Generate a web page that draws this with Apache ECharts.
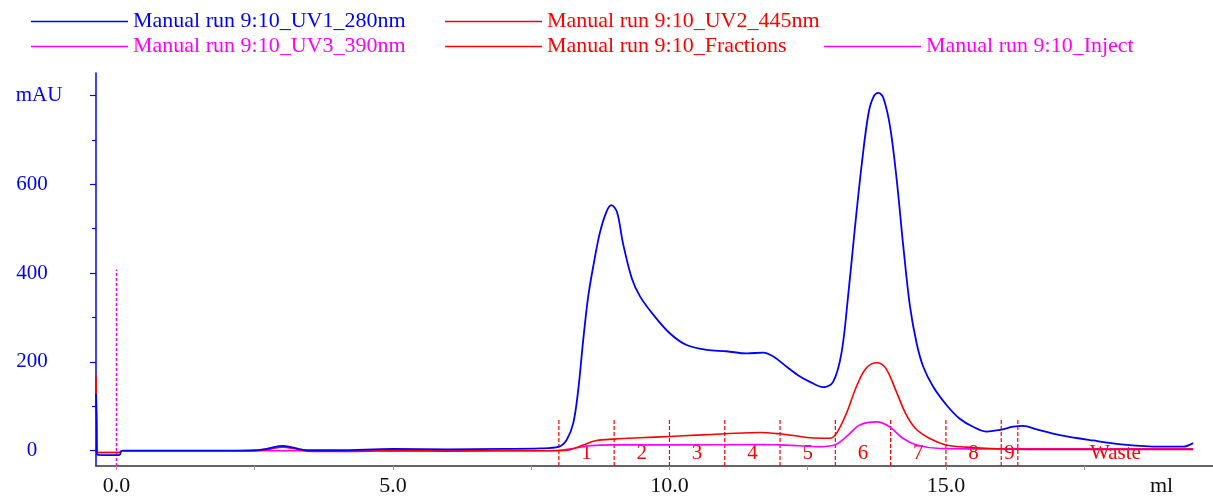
<!DOCTYPE html>
<html>
<head>
<meta charset="utf-8">
<title>Manual run 9:10</title>
<script src="https://cdn.jsdelivr.net/npm/echarts@6/dist/echarts.min.js"></script>
<style>
  html, body { margin: 0; padding: 0; background: #ffffff; }
  #chart { width: 1213px; height: 497px; }
</style>
</head>
<body>
<div id="chart"></div>
<script>
// Series names
const nameUV1 = 'Manual run 9:10_UV1_280nm';
const nameUV2 = 'Manual run 9:10_UV2_445nm';
const nameUV3 = 'Manual run 9:10_UV3_390nm';
const nameFrac = 'Manual run 9:10_Fractions';
const nameInject = 'Manual run 9:10_Inject';

// UV 280 nm trace: [ml, mAU]
const uv1 = [
  [-0.37, 128], [-0.36, 60], [-0.35, -9], [-0.2, -10], [0.05, -10], [0.1, 0],
  [1.0, 0], [2.0, 0], [2.5, 1], [2.75, 5], [3.0, 11], [3.2, 7], [3.45, 1],
  [4.0, 1], [5.0, 4], [6.0, 3], [7.0, 4], [7.66, 5], [8.0, 9], [8.14, 24],
  [8.26, 62], [8.35, 137], [8.44, 249], [8.53, 347], [8.62, 414], [8.74, 490],
  [8.86, 538], [8.95, 553], [9.05, 538], [9.16, 467], [9.32, 388], [9.47, 347],
  [9.71, 306], [10.01, 264], [10.31, 238], [10.67, 227], [11.03, 224], [11.4, 219],
  [11.7, 221], [11.88, 212], [12.12, 189], [12.36, 167], [12.54, 155], [12.78, 143],
  [12.96, 155], [13.11, 219], [13.23, 347], [13.35, 497], [13.48, 648], [13.6, 760],
  [13.69, 797], [13.78, 806], [13.87, 794], [13.99, 730], [14.11, 610], [14.23, 459],
  [14.35, 325], [14.47, 242], [14.59, 189], [14.77, 144], [15.01, 103], [15.25, 72],
  [15.49, 54], [15.74, 43], [15.98, 47], [16.22, 54], [16.4, 56], [16.64, 48],
  [17.06, 35], [17.66, 23], [18.27, 13], [18.87, 9], [19.29, 9], [19.47, 17]
];

// UV 445 nm trace: [ml, mAU]
const uv2 = [
  [-0.37, 170], [-0.36, 70], [-0.35, -4], [0.05, -4], [0.1, 0], [2.0, 0],
  [2.5, 0], [2.75, 3], [3.0, 8], [3.2, 5], [3.45, -1], [4.0, -2], [5.0, 0],
  [6.0, -1], [7.0, 0], [7.66, 0], [8.0, 0], [8.2, 2], [8.44, 13], [8.68, 23],
  [9.0, 26], [9.47, 29], [10.0, 32], [10.5, 35], [11.0, 38], [11.64, 41],
  [11.99, 38], [12.36, 32], [12.54, 29], [12.9, 28], [13.02, 39], [13.2, 84],
  [13.38, 144], [13.56, 186], [13.75, 198], [13.91, 186], [14.09, 137], [14.27, 84],
  [14.45, 50], [14.7, 28], [15.0, 13], [15.36, 8], [15.8, 5], [16.5, 3],
  [17.5, 3], [18.5, 3], [19.47, 3]
];

// UV 390 nm trace: [ml, mAU]
const uv3 = [
  [-0.37, -4], [0.05, -4], [0.1, 0], [2.0, 0], [5.0, 0], [7.66, 0], [8.0, 1],
  [8.26, 5], [8.56, 11], [9.0, 13], [10.07, 13], [11.58, 14], [12.0, 13],
  [12.36, 11], [12.66, 9], [12.99, 13], [13.23, 35], [13.44, 58], [13.75, 65],
  [13.98, 54], [14.22, 28], [14.47, 13], [14.89, 5], [15.8, 4], [17.0, 4],
  [18.5, 4], [19.47, 4]
];

// Injection mark: [ml, mAU]
const inject = [[0, -34.5], [0, 408]];

// Fraction boundaries (ml) and their labels
const fractionStarts = [8.0, 9.0, 10.0, 11.0, 12.0, 13.0, 14.0, 15.0, 16.0, 16.3];
const fractionLabels = ['1', '2', '3', '4', '5', '6', '7', '8', '9', 'Waste'];
const fractionMarkTop = 71;

// Axis ranges and tick values
const xMin = -0.371, xMax = 19.83;
const yMin = -34.5, yMax = 850.7;
const xLabelValues = [0, 5, 10, 15];
const xTickValues = [0, 2.5, 5, 7.5, 10, 12.5, 15, 17.5];
const xUnitAt = 18.9;
const yLabelValues = [0, 200, 400, 600, 800];
const yMinorTicks = [100, 300, 500, 700];

const BLUE = '#0000ff', RED = '#ff0000', MAGENTA = '#ff00ff';
const SERIF = "'Liberation Serif', 'Times New Roman', serif";

const fractionData = fractionStarts.map((s, i) => [
  s, i + 1 < fractionStarts.length ? fractionStarts[i + 1] : xMax, i
]);

const chart = echarts.init(document.getElementById('chart'), null, { renderer: 'canvas' });

const legendBase = {
  orient: 'vertical',
  itemGap: 0,
  itemWidth: 97,
  itemHeight: 1.5,
  icon: 'rect',
  selectedMode: false,
  padding: 0,
  textStyle: { fontFamily: SERIF, fontSize: 22, lineHeight: 25 }
};

const traceLine = (name, data, color, width) => ({
  name: name,
  type: 'line',
  data: data,
  symbol: 'none',
  smooth: 0.35,
  lineStyle: { color: color, width: width },
  itemStyle: { color: color }
});

chart.setOption({
  animation: false,
  backgroundColor: '#ffffff',
  legend: [
    Object.assign({}, legendBase, {
      left: 31, top: 9,
      data: [
        { name: nameUV1, textStyle: { color: BLUE } },
        { name: nameUV3, textStyle: { color: MAGENTA } }
      ]
    }),
    Object.assign({}, legendBase, {
      left: 445, top: 9,
      data: [
        { name: nameUV2, textStyle: { color: RED } },
        { name: nameFrac, textStyle: { color: RED } }
      ]
    }),
    Object.assign({}, legendBase, {
      left: 824, top: 34,
      data: [
        { name: nameInject, textStyle: { color: MAGENTA } }
      ]
    })
  ],
  grid: { left: 96, right: 0, top: 73, bottom: 31, containLabel: false },
  xAxis: {
    type: 'value',
    min: xMin,
    max: xMax,
    splitLine: { show: false },
    axisLine: { onZero: false, lineStyle: { color: '#333333', width: 1.5 } },
    axisTick: {
      customValues: xTickValues,
      length: 4,
      lineStyle: { color: '#999999', width: 1 }
    },
    axisLabel: {
      customValues: xLabelValues.concat([xUnitAt]),
      formatter: v => (v === xUnitAt ? 'ml' : v.toFixed(1)),
      color: '#111111',
      fontFamily: SERIF,
      fontSize: 22,
      margin: 9
    }
  },
  yAxis: [
    {
      type: 'value',
      min: yMin,
      max: yMax,
      splitLine: { show: false },
      axisLine: { onZero: false, lineStyle: { color: BLUE, width: 1.5 } },
      axisTick: {
        customValues: yLabelValues,
        length: 6,
        lineStyle: { color: BLUE, width: 1.2 }
      },
      axisLabel: {
        customValues: yLabelValues,
        formatter: v => (v === 800 ? '{u|mAU}' : String(v)),
        rich: { u: { padding: [0, 0, 0, 14], fontFamily: SERIF, fontSize: 21, color: BLUE } },
        color: BLUE,
        fontFamily: SERIF,
        fontSize: 21,
        align: 'center',
        margin: 64
      }
    },
    {
      type: 'value',
      min: yMin,
      max: yMax,
      position: 'left',
      splitLine: { show: false },
      axisLine: { show: false, onZero: false },
      axisLabel: { show: false },
      axisTick: {
        customValues: yMinorTicks,
        length: 4,
        lineStyle: { color: BLUE, width: 1.2 }
      }
    }
  ],
  series: [
    traceLine(nameUV3, uv3, MAGENTA, 1.6),
    {
      name: nameInject,
      type: 'line',
      data: inject,
      symbol: 'none',
      lineStyle: { color: MAGENTA, width: 1.5, type: [3, 2] },
      itemStyle: { color: MAGENTA }
    },
    {
      name: nameFrac,
      type: 'custom',
      data: fractionData,
      itemStyle: { color: RED },
      renderItem: (params, api) => {
        const start = api.value(0);
        const end = api.value(1);
        const idx = api.value(2);
        const bottom = api.coord([start, yMin]);
        const top = api.coord([start, fractionMarkTop]);
        const mid = api.coord([(start + end) / 2, -6]);
        return {
          type: 'group',
          children: [
            {
              type: 'line',
              shape: { x1: bottom[0], y1: bottom[1], x2: top[0], y2: top[1] },
              style: { stroke: RED, lineWidth: 1.2, lineDash: [4, 2] }
            },
            {
              type: 'text',
              x: mid[0],
              y: mid[1],
              style: {
                text: fractionLabels[idx],
                fill: RED,
                font: '21px ' + SERIF,
                align: 'center',
                verticalAlign: 'middle'
              }
            }
          ]
        };
      }
    },
    traceLine(nameUV2, uv2, RED, 1.6),
    traceLine(nameUV1, uv1, BLUE, 1.8)
  ]
});
</script>
</body>
</html>
